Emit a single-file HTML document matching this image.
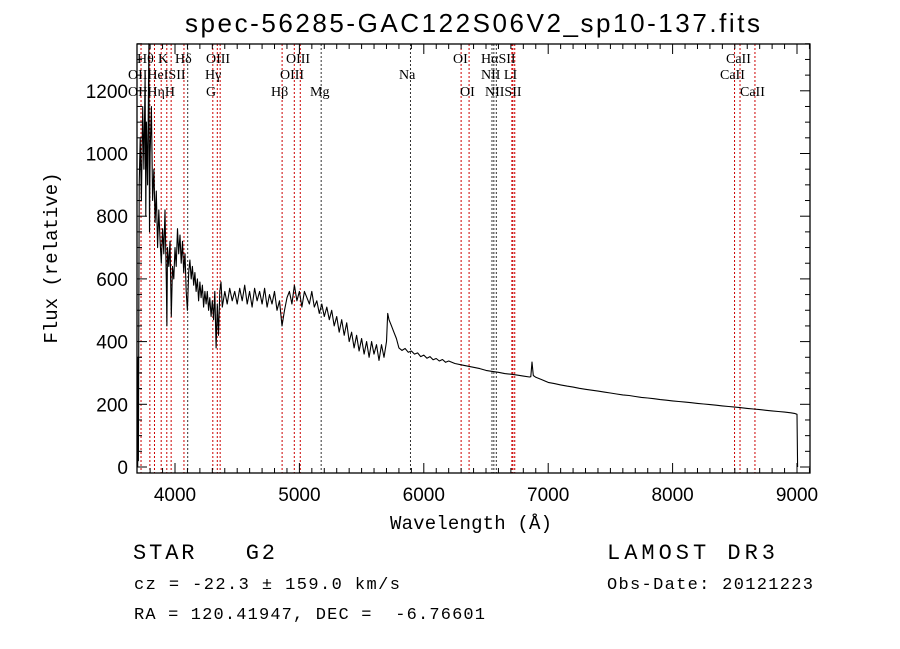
<!DOCTYPE html>
<html><head><meta charset="utf-8"><style>
html,body{margin:0;padding:0;background:#fff;}
svg{display:block;}
text{white-space:pre;}
</style></head><body>
<svg id="chart" width="900" height="649" viewBox="0 0 900 649" xmlns="http://www.w3.org/2000/svg" xml:space="preserve">
<rect width="900" height="649" fill="#fff"/>
<text x="185" y="32" font-family="Liberation Sans, sans-serif" font-size="26" textLength="575" lengthAdjust="spacing" fill="#000">spec-56285-GAC122S06V2_sp10-137.fits</text>
<text x="390" y="529" font-family="Liberation Mono, monospace" font-size="19" textLength="162">Wavelength (Å)</text>
<text transform="translate(57,258) rotate(-90)" font-family="Liberation Mono, monospace" font-size="19" text-anchor="middle">Flux (relative)</text>
<g id="lines"></g>
<g id="labels" font-family="Liberation Serif, serif" font-size="14"></g>
<g id="spec"></g>
<g id="axes"></g>
<text x="133" y="559" font-family="Liberation Mono, monospace" font-size="22" textLength="142">STAR   G2</text>
<text x="607" y="559" font-family="Liberation Mono, monospace" font-size="22" textLength="168">LAMOST DR3</text>
<text x="134" y="589" font-family="Liberation Mono, monospace" font-size="17" textLength="266">cz = -22.3 ± 159.0 km/s</text>
<text x="607" y="589" font-family="Liberation Mono, monospace" font-size="17" textLength="206">Obs-Date: 20121223</text>
<text x="134" y="619" font-family="Liberation Mono, monospace" font-size="17" textLength="351">RA = 120.41947, DEC =  -6.76601</text>
</svg>
<script>
const wavelengths=[3700,3703,3706,3712,3720,3730,3740,3750,3760,3765,3770,3780,3790,3795,3800,3810,3820,3830,3840,3850,3860,3870,3880,3890,3900,3910,3920,3930,3935,3940,3950,3960,3970,3980,3990,4000,4010,4020,4030,4040,4050,4060,4070,4080,4090,4100,4110,4120,4130,4140,4150,4160,4170,4180,4190,4200,4210,4220,4230,4240,4250,4260,4270,4280,4290,4300,4310,4320,4330,4340,4350,4360,4370,4380,4400,4420,4440,4460,4480,4500,4520,4540,4560,4580,4600,4620,4640,4660,4680,4700,4720,4740,4760,4780,4800,4820,4840,4860,4880,4900,4920,4940,4960,4980,5000,5020,5040,5060,5080,5100,5120,5140,5160,5180,5200,5220,5240,5260,5280,5300,5320,5340,5360,5380,5400,5420,5440,5460,5480,5500,5520,5540,5560,5580,5600,5620,5640,5660,5680,5700,5710,5720,5740,5760,5780,5800,5825,5850,5875,5900,5925,5950,5975,6000,6025,6050,6075,6100,6125,6150,6175,6200,6250,6300,6350,6400,6450,6500,6550,6600,6650,6700,6750,6800,6850,6860,6870,6880,6900,6950,7000,7050,7100,7150,7200,7250,7300,7350,7400,7450,7500,7550,7600,7650,7700,7750,7800,7850,7900,7950,8000,8050,8100,8150,8200,8250,8300,8350,8400,8450,8500,8550,8600,8650,8700,8750,8800,8850,8900,8950,8980,9000,9005];
const fluxes=[0,350,20,900,1050,850,1150,950,1250,800,1100,900,1350,750,1000,1150,850,950,780,880,700,820,720,650,760,680,820,600,450,700,640,720,480,640,600,700,640,760,680,740,650,720,620,680,560,500,620,660,600,640,580,620,560,600,530,590,540,580,510,560,520,560,500,540,480,530,470,560,380,520,420,560,590,510,560,520,570,530,560,520,570,530,580,520,560,510,570,530,560,520,570,510,550,520,560,500,530,450,500,540,560,520,580,530,560,510,560,540,520,560,510,530,490,520,480,510,470,500,450,480,430,470,420,460,400,430,380,420,370,410,360,400,350,400,360,390,340,390,350,400,490,470,450,430,410,380,372,378,366,370,360,364,352,357,347,352,342,346,338,343,334,338,330,326,322,318,314,308,305,302,298,296,293,290,287,288,335,292,286,278,270,266,262,258,255,251,248,245,242,239,236,233,230,228,225,222,220,218,215,213,211,209,207,205,203,201,199,197,195,193,191,189,187,185,183,181,179,177,175,173,171,168,0];
const majorXTicks=[4000,5000,6000,7000,8000,9000];
const yTicks=[0,200,400,600,800,1000,1200];
const lineWl=[3727,3798,3835,3889,3934,3969,4072,4102,4304,4340,4363,4861,4959,5007,5175,5893,6300,6364,6548,6563,6583,6708,6716,6731,8498,8542,8662];
const lineColor=['r','r','r','r','r','r','r','k','r','r','r','r','r','r','k','k','r','r','k','k','k','r','r','r','r','r','r'];
const NS='http://www.w3.org/2000/svg';
const X0=137,X1=810,Y0=44,Y1=473;
function sx(w){return 175+(w-4000)*0.1244;}
function sy(f){return 467-f*0.3135;}
function mk(tag,attrs,parent){const e=document.createElementNS(NS,tag);for(const k in attrs)e.setAttribute(k,attrs[k]);parent.appendChild(e);return e;}
const gl=document.getElementById('lines');
lineWl.forEach((w,i)=>{
  const l=mk('line',{x1:sx(w),x2:sx(w),y1:Y0,y2:Y1,stroke:lineColor[i]==='r'?'#cc0000':'#333',"stroke-width":1,"stroke-dasharray":"2,2"},gl);
  
  
});
const lab=[["Hθ",137,63],["K",158,63],["Hδ",175,63],["OIII",206,63],["OIII",286,63],["OI",453,63],["HαSII",481,63],["CaII",726,63],
["OIIHeISII",128,79],["Hγ",205,79],["OIII",280,79],["Na",399,79],["NII LI",481,79],["CaII",720,79],
["OIIHηH",128,96],["G",206,96],["Hβ",271,96],["Mg",310,96],["OI",460,96],["NIISII",485,96],["CaII",740,96]];
const glab=document.getElementById('labels');
lab.forEach(a=>{const t=mk('text',{x:a[1],y:a[2]},glab);t.textContent=a[0];
  
  });
const gs=document.getElementById('spec');
let d='';wavelengths.forEach((w,i)=>{d+=(i?'L':'M')+sx(w).toFixed(1)+','+sy(fluxes[i]).toFixed(1);});
const p=mk('path',{d:d,fill:'none',stroke:'#000',"stroke-width":1.1,"stroke-linejoin":"round"},gs);


const ga=document.getElementById('axes');
const fr=mk('rect',{x:X0,y:Y0,width:X1-X0,height:Y1-Y0,fill:'none',stroke:'#000',"stroke-width":1.3},ga);


for(let w=3800;w<=9100;w+=100){const x=sx(w);const len=(w%1000===0)?10:5;
  mk('line',{x1:x,x2:x,y1:Y1,y2:Y1-len,stroke:'#000'},ga);
  mk('line',{x1:x,x2:x,y1:Y0,y2:Y0+len,stroke:'#000'},ga);}
majorXTicks.forEach(v=>{const t=mk('text',{x:sx(v),y:501,"text-anchor":"middle","font-family":"Liberation Sans, sans-serif","font-size":19},ga);t.textContent=v;
  
  });
for(let f=0;f<=1350;f+=50){const y=sy(f);const len=(f%200===0)?10:5;
  mk('line',{x1:X0,x2:X0+len,y1:y,y2:y,stroke:'#000'},ga);
  mk('line',{x1:X1,x2:X1-len,y1:y,y2:y,stroke:'#000'},ga);}
yTicks.forEach(v=>{const t=mk('text',{x:128,y:sy(v)+7,"text-anchor":"end","font-family":"Liberation Sans, sans-serif","font-size":19},ga);t.textContent=v;
  
  });
</script>
</body></html>
